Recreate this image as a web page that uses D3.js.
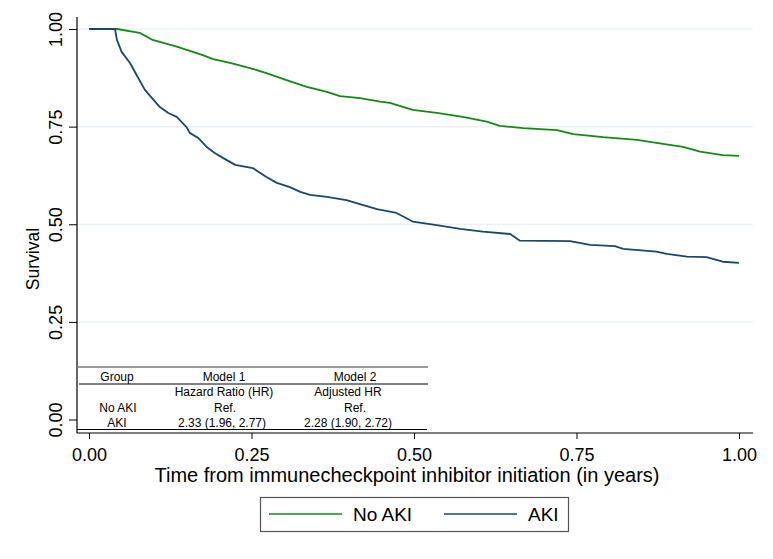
<!DOCTYPE html>
<html>
<head>
<meta charset="utf-8">
<script src="https://cdn.jsdelivr.net/npm/d3@7/dist/d3.min.js"></script>
<style>
  html, body { margin: 0; padding: 0; background: #fff; }
  svg { display: block; font-family: "Liberation Sans", Arial, Helvetica, sans-serif; }
</style>
</head>
<body>
<svg id="chart" width="773" height="559"></svg>
<script>
// ---- Data ----
const seriesNames = ["No AKI", "AKI"];
const seriesColors = ["#138a13", "#1a476f"];

// time (years) and survival for the No AKI group
const noAkiTime = [0, 0.043, 0.078, 0.098, 0.135, 0.175, 0.191, 0.217, 0.252, 0.273, 0.304, 0.335, 0.366, 0.386, 0.417, 0.448, 0.463, 0.498, 0.535, 0.575, 0.612, 0.632, 0.668, 0.720, 0.745, 0.791, 0.843, 0.883, 0.914, 0.940, 0.975, 1.0];
const noAkiSurv = [1.0, 1.0, 0.990, 0.972, 0.955, 0.933, 0.923, 0.913, 0.898, 0.887, 0.869, 0.852, 0.839, 0.828, 0.823, 0.814, 0.811, 0.793, 0.785, 0.775, 0.763, 0.752, 0.746, 0.741, 0.731, 0.723, 0.716, 0.706, 0.698, 0.686, 0.677, 0.675];

// time (years) and survival for the AKI group
const akiTime = [0, 0.040, 0.043, 0.050, 0.063, 0.075, 0.086, 0.097, 0.109, 0.122, 0.135, 0.150, 0.155, 0.168, 0.181, 0.194, 0.206, 0.225, 0.252, 0.273, 0.289, 0.309, 0.325, 0.340, 0.366, 0.396, 0.422, 0.443, 0.473, 0.498, 0.535, 0.571, 0.606, 0.648, 0.663, 0.740, 0.771, 0.809, 0.822, 0.873, 0.889, 0.920, 0.950, 0.975, 1.0];
const akiSurv = [1.0, 1.0, 0.972, 0.942, 0.913, 0.877, 0.844, 0.823, 0.800, 0.785, 0.775, 0.749, 0.734, 0.721, 0.698, 0.682, 0.670, 0.652, 0.644, 0.621, 0.606, 0.595, 0.583, 0.575, 0.570, 0.562, 0.549, 0.539, 0.529, 0.507, 0.498, 0.488, 0.481, 0.475, 0.458, 0.457, 0.447, 0.444, 0.437, 0.430, 0.424, 0.417, 0.416, 0.404, 0.401];

const xTicks = [0, 0.25, 0.5, 0.75, 1.0];
const yTicks = [0, 0.25, 0.5, 0.75, 1.0];
const gridValues = [0.25, 0.5, 0.75, 1.0];

const xTitle = "Time from immunecheckpoint inhibitor initiation (in years)";
const yTitle = "Survival";

// Inset table
const tableRows = [
  ["Group", "Model 1", "Model 2"],
  ["", "Hazard Ratio (HR)", "Adjusted HR"],
  ["No AKI", "Ref.", "Ref."],
  ["AKI", "2.33 (1.96, 2.77)", "2.28 (1.90, 2.72)"]
];

// ---- Layout ----
const svg = d3.select("#chart");
const axisLeftX = 77, axisRightX = 753, axisTopY = 17, axisBottomY = 433;

const x = d3.scaleLinear().domain([0, 1]).range([89, 739]);
const y = d3.scaleLinear().domain([0, 1]).range([419.5, 29]);

// grid
svg.append("g").selectAll("line").data(gridValues).join("line")
  .attr("x1", axisLeftX).attr("x2", axisRightX)
  .attr("y1", d => y(d)).attr("y2", d => y(d))
  .attr("stroke", "#eaf1f4").attr("stroke-width", 1.5);

// curves
const series = [
  { name: seriesNames[0], color: seriesColors[0], t: noAkiTime, s: noAkiSurv },
  { name: seriesNames[1], color: seriesColors[1], t: akiTime, s: akiSurv }
];
const line = d3.line().curve(d3.curveLinear).x(d => x(d[0])).y(d => y(d[1]));
svg.append("g").selectAll("path").data(series).join("path")
  .attr("d", d => line(d.t.map((v, i) => [v, d.s[i]])))
  .attr("fill", "none")
  .attr("stroke", d => d.color)
  .attr("stroke-width", 1.8)
  .attr("stroke-linejoin", "round");

// y axis
const yAxis = svg.append("g").attr("transform", `translate(${axisLeftX},0)`)
  .call(d3.axisLeft(y).tickValues(yTicks).tickSize(8).tickFormat(d3.format(".2f")));
yAxis.select(".domain").remove();
yAxis.selectAll(".tick line").attr("stroke", "#000").attr("stroke-width", 1);
yAxis.selectAll(".tick text")
  .attr("x", null).attr("dy", null).attr("y", null)
  .attr("text-anchor", "middle")
  .attr("transform", "translate(-15,0) rotate(-90)")
  .attr("font-size", 18).attr("fill", "#000")
  .style("font-family", "Liberation Sans, Arial, sans-serif");
svg.append("line").attr("x1", axisLeftX).attr("x2", axisLeftX)
  .attr("y1", axisTopY).attr("y2", axisBottomY).attr("stroke", "#000").attr("stroke-width", 1.2);

// x axis
const xAxis = svg.append("g").attr("transform", `translate(0,${axisBottomY})`)
  .call(d3.axisBottom(x).tickValues(xTicks).tickSize(6).tickFormat(d3.format(".2f")));
xAxis.select(".domain").remove();
xAxis.selectAll(".tick line").attr("stroke", "#000");
xAxis.selectAll(".tick text")
  .attr("y", 28).attr("dy", null)
  .attr("font-size", 18).attr("fill", "#000")
  .style("font-family", "Liberation Sans, Arial, sans-serif");
svg.append("line").attr("x1", axisLeftX).attr("x2", axisRightX)
  .attr("y1", axisBottomY).attr("y2", axisBottomY).attr("stroke", "#000").attr("stroke-width", 1.2);

// axis titles
svg.append("text").attr("x", 407).attr("y", 482).attr("text-anchor", "middle")
  .attr("font-size", 20).text(xTitle);
svg.append("text").attr("transform", "translate(39,259) rotate(-90)").attr("text-anchor", "middle")
  .attr("font-size", 17.5).text(yTitle);

// table
const tbl = svg.append("g");
const colX = [[117, 224, 355], [117, 224, 348], [118, 225, 355], [117, 222, 348]];
const rowY = [380.5, 396, 411.5, 426.5];
tableRows.forEach((row, r) => {
  row.forEach((cell, c) => {
    if (!cell) return;
    tbl.append("text").attr("x", colX[r][c]).attr("y", rowY[r])
      .attr("text-anchor", "middle").attr("font-size", 12).attr("fill", "#000").text(cell);
  });
});
tbl.append("line").attr("x1", 77).attr("x2", 428).attr("y1", 367).attr("y2", 367)
  .attr("stroke", "#7a7a7a").attr("stroke-width", 1.5);
tbl.append("line").attr("x1", 79).attr("x2", 428).attr("y1", 384).attr("y2", 384)
  .attr("stroke", "#000").attr("stroke-width", 1);
tbl.append("line").attr("x1", 77).attr("x2", 427).attr("y1", 429.5).attr("y2", 429.5)
  .attr("stroke", "#000").attr("stroke-width", 1);

// legend
const lg = svg.append("g");
lg.append("rect").attr("x", 260.5).attr("y", 497.5).attr("width", 308).attr("height", 34)
  .attr("fill", "#fff").attr("stroke", "#555").attr("stroke-width", 1.2);
const legendItems = [
  { x1: 269, x2: 342, tx: 353 },
  { x1: 444, x2: 517, tx: 528 }
];
legendItems.forEach((it, i) => {
  lg.append("line").attr("x1", it.x1).attr("x2", it.x2).attr("y1", 514).attr("y2", 514)
    .attr("stroke", seriesColors[i]).attr("stroke-width", 1.6);
  lg.append("text").attr("x", it.tx).attr("y", 521).attr("font-size", 19).attr("fill", "#000")
    .text(seriesNames[i]);
});
</script>
</body>
</html>
